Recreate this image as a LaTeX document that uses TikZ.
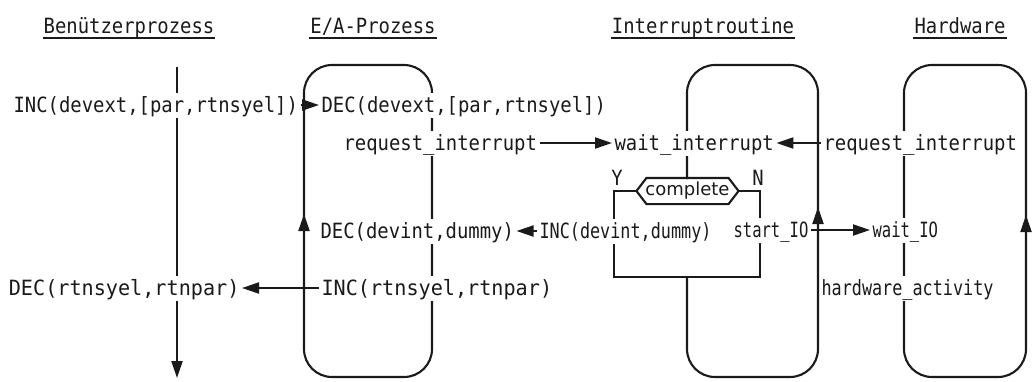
\documentclass[tikz,border=0pt]{standalone}
\usepackage{fontspec}
\usetikzlibrary{arrows.meta}
\newfontfamily\mtt[FakeStretch=0.9]{DejaVu Sans Mono}
\newfontfamily\mttw[FakeStretch=0.96]{DejaVu Sans Mono}
\newfontfamily\mttn[FakeStretch=0.8]{DejaVu Sans Mono}
\newfontfamily\mttc[FakeStretch=0.74]{DejaVu Sans Mono}
\newfontfamily\sansf{DejaVu Sans}
\definecolor{ink}{HTML}{1A1A1A}
\begin{document}
\begin{tikzpicture}[x=1pt,y=-1pt,line width=2.1pt,draw=ink,text=ink,
  txt/.style={font=\mtt\fontsize{21}{24}\selectfont, fill=white, inner xsep=1.5pt, inner ysep=3pt, text height=17pt, text depth=2pt, anchor=west},
  ttl/.style={font=\mtt\fontsize{21}{24}\selectfont, inner sep=0pt, anchor=base},
  lbl/.style={font=\mtt\fontsize{21}{24}\selectfont, inner sep=0pt},
  arr/.style={-{Triangle[length=17pt,width=11pt]}},
  uline/.style={line width=1.5pt},
  boxline/.style={rounded corners=28pt}]
\fill[white] (0,0) rectangle (1032,381);
\useasboundingbox (0,0) rectangle (1032,381);

% titles
\node[ttl] (t1) at (129,33) {Benützerprozess};
\node[ttl] (t2) at (373,33) {E/A-Prozess};
\node[ttl] (t3) at (703,33) {Interruptroutine};
\node[ttl] (t4) at (960,33) {Hardware};
\foreach \t in {t1,t2,t3,t4}
  \draw[uline] ([yshift=-5pt]\t.base west) -- ([yshift=-5pt]\t.base east);

% process lines / boxes
\draw[arr] (177,67) -- (177,378);
\draw[boxline] (304,65) rectangle (432,377);
\draw[arr] (304,245) -- (304,214);
\draw[boxline] (687,277) -- (687,377) -- (818,377) -- (818,65) -- (687,65) -- (687,179);
\draw[arr] (818,235) -- (818,207);
\draw[boxline] (904,65) rectangle (1026,377);
\draw[arr] (1026,245) -- (1026,215);

% decision
\node[minimum width=100pt, minimum height=24pt, inner sep=0pt,
      font=\sansf\fontsize{18}{20}\selectfont, text height=13pt, text depth=4pt] (cmp) at (687.5,191) {complete};
\draw[line join=miter] (cmp.west) -- ([xshift=10pt]cmp.north west) -- ([xshift=-10pt]cmp.north east)
  -- (cmp.east) -- ([xshift=-10pt]cmp.south east) -- ([xshift=10pt]cmp.south west) -- cycle;
\coordinate (yb) at (614,191);
\coordinate (nb) at (760,191);
\draw (cmp.west) -- (yb) -- (614,277) -- (760,277) -- (nb) -- (cmp.east);
\node[lbl] (ylab) at (617,178) {Y};
\node[lbl] (nlab) at (758,178) {N};

% texts
\node[txt] (inc1) at (11,105) {INC(devext,[par,rtnsyel])};
\node[txt] (dec1) at (319,105) {DEC(devext,[par,rtnsyel])};
\node[txt] (req1) at (341,143) {request\_interrupt};
\node[txt] (wint) at (612,143) {wait\_interrupt};
\node[txt] (req2) at (821,143) {request\_interrupt};
\node[txt] (decd) at (318,231) {DEC(devint,dummy)};
\node[txt,font=\mttn\fontsize{21}{24}\selectfont] (incd) at (537,231) {INC(devint,dummy)};
\node[txt,font=\mttc\fontsize{21}{24}\selectfont] (stio) at (731,230) {start\_IO};
\node[txt,font=\mttc\fontsize{21}{24}\selectfont] (wio) at (870,230) {wait\_IO};
\node[txt,font=\mttw\fontsize{21}{24}\selectfont] (incr) at (319,288) {INC(rtnsyel,rtnpar)};
\node[txt,font=\mttw\fontsize{21}{24}\selectfont,anchor=east] (decr) at (242,288) {DEC(rtnsyel,rtnpar)};
\node[txt,font=\mttn\fontsize{21}{24}\selectfont] (hwa) at (819,288) {hardware\_activity};

% connectors
\draw[arr] (inc1.east) -- (dec1.west);
\draw[arr] (req1.east) -- (wint.west);
\draw[arr] (req2.west) -- (wint.east);
\draw[arr] (incd.west) -- (decd.east);
\draw[arr] (stio.east) -- (wio.west);
\draw[arr] (incr.west) -- (decr.east);
\end{tikzpicture}
\end{document}
